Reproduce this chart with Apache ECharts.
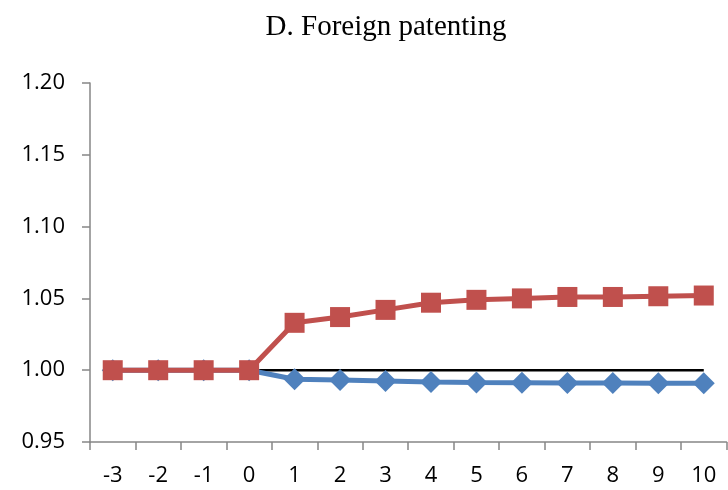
<!DOCTYPE html>
<html><head><meta charset="utf-8">
<script src="https://cdn.jsdelivr.net/npm/echarts@6/dist/echarts.min.js"></script>
<style>html,body{margin:0;padding:0;background:#fff}#c{width:728px;height:490px}</style>
</head><body><div id="c"></div>
<script>
const categories = ['-3','-2','-1','0','1','2','3','4','5','6','7','8','9','10'];
const redSeries = [1.0,1.0,1.0,1.0,1.033,1.037,1.042,1.047,1.049,1.050,1.051,1.051,1.0515,1.052];
const blueSeries = [1.0,1.0,1.0,1.0,0.9937,0.9932,0.9925,0.9918,0.9914,0.9912,0.9910,0.9910,0.9909,0.9909];
const baseline = [1,1,1,1,1,1,1,1,1,1,1,1,1,1];
const yTicks = {min:0.95, max:1.20, interval:0.05};

const chart = echarts.init(document.getElementById('c'));
chart.setOption({
  animation:false,
  title:{text:'D. Foreign patenting', left:386, textAlign:'center', top:8,
    textStyle:{fontFamily:'Liberation Serif', fontSize:29, fontWeight:'normal', color:'#000'}},
  grid:{left:90, right:1.5, top:83, bottom:48},
  xAxis:{type:'category', data:categories, boundaryGap:true,
    axisLine:{lineStyle:{color:'#868686', width:1.5}},
    axisTick:{show:true, length:8, inside:false, lineStyle:{color:'#868686', width:1.5}},
    axisLabel:{fontFamily:'Open Sans', fontSize:22, color:'#000', margin:23}},
  yAxis:{type:'value', min:yTicks.min, max:yTicks.max, interval:yTicks.interval,
    axisLine:{show:true, lineStyle:{color:'#868686', width:1.5}},
    axisTick:{show:true, length:8, lineStyle:{color:'#868686', width:1.5}},
    splitLine:{show:false},
    axisLabel:{fontFamily:'Open Sans', fontSize:22, color:'#000', margin:25,
      formatter:v=>v.toFixed(2)}},
  series:[
    {type:'line', data:baseline, symbol:'none', lineStyle:{color:'#000', width:2.5}, z:1},
    {type:'line', data:blueSeries, symbol:'diamond', symbolSize:22,
      itemStyle:{color:'#4F81BD'}, lineStyle:{color:'#4F81BD', width:5}, z:2},
    {type:'line', data:redSeries, symbol:'rect', symbolSize:20,
      itemStyle:{color:'#C0504D'}, lineStyle:{color:'#C0504D', width:5}, z:3}
  ]
});
chart.setOption({title:{left:381}});
</script></body></html>
